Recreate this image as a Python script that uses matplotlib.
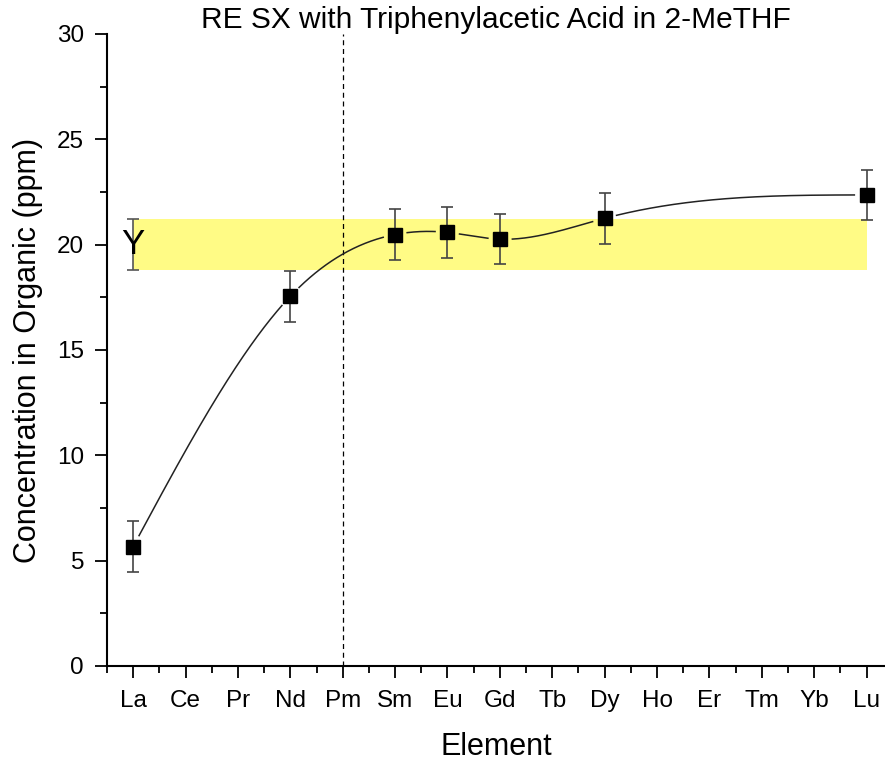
import numpy as np
import matplotlib
matplotlib.use('Agg')
import matplotlib.pyplot as plt
from matplotlib.ticker import MultipleLocator

plt.rcParams['font.family'] = ['Liberation Sans', 'DejaVu Sans']

elements = ['La', 'Ce', 'Pr', 'Nd', 'Pm', 'Sm', 'Eu', 'Gd', 'Tb', 'Dy',
            'Ho', 'Er', 'Tm', 'Yb', 'Lu']
measured = ['La', 'Nd', 'Sm', 'Eu', 'Gd', 'Dy', 'Lu']
conc = [5.67, 17.55, 20.48, 20.58, 20.26, 21.25, 22.36]
conc_err = [1.19, 1.2, 1.19, 1.2, 1.18, 1.2, 1.19]
y_conc = 19.99
y_err = 1.21


def natural_spline(x, y, xs):
    # plain natural cubic spline, no scipy needed
    x = np.asarray(x, float)
    y = np.asarray(y, float)
    n = len(x)
    h = np.diff(x)
    A = np.zeros((n, n))
    b = np.zeros(n)
    A[0, 0] = A[-1, -1] = 1
    for i in range(1, n - 1):
        A[i, i - 1] = h[i - 1]
        A[i, i] = 2 * (h[i - 1] + h[i])
        A[i, i + 1] = h[i]
        b[i] = 3 * ((y[i + 1] - y[i]) / h[i] - (y[i] - y[i - 1]) / h[i - 1])
    c = np.linalg.solve(A, b)
    out = np.empty_like(xs)
    for k, xv in enumerate(xs):
        i = min(max(np.searchsorted(x, xv) - 1, 0), n - 2)
        d = (c[i + 1] - c[i]) / (3 * h[i])
        bb = (y[i + 1] - y[i]) / h[i] - h[i] * (2 * c[i] + c[i + 1]) / 3
        t = xv - x[i]
        out[k] = y[i] + bb * t + c[i] * t ** 2 + d * t ** 3
    return out


pos = np.arange(len(elements))
xm = np.array([elements.index(e) for e in measured], float)
ym = np.array(conc)

fig = plt.figure(figsize=(8.85, 7.62), dpi=100)
ax = fig.add_axes([0.1209, 0.126, 0.879, 0.8294])
ax.set_xlim(-0.5, 14.35)
ax.set_ylim(0, 30)

# band for the Y reference value
ax.fill_between([0, 14], y_conc - y_err, y_conc + y_err,
                color='#FFFB85', lw=0, zorder=1)
ax.errorbar(0, y_conc, yerr=y_err, fmt='none', ecolor='#555555',
            elinewidth=1.2, capsize=4, capthick=1.2, zorder=2)
ax.text(0, y_conc, 'Y', ha='center', va='center', fontsize=25, zorder=3)

ax.axvline(4, color='k', ls=(0, (4, 3)), lw=0.9, zorder=2)

# spline through the points, broken near each marker
xs = np.linspace(xm[0], xm[-1], 1500)
ys = natural_spline(xm, ym, xs)
px, py = 52.4, 21.03
near = np.zeros_like(xs, bool)
for a, b in zip(xm, ym):
    near |= np.hypot((xs - a) * px, (ys - b) * py) < 12
ys_m = np.where(near, np.nan, ys)
ax.plot(xs, ys_m, color='#222222', lw=1.1, zorder=3)

ax.errorbar(xm, ym, yerr=conc_err, fmt='none', ecolor='#444444',
            elinewidth=1.2, capsize=4, capthick=1.2, zorder=4)
ax.plot(xm, ym, 's', color='k', ms=9.5, zorder=5)

ax.set_xticks(pos)
ax.set_xticklabels(elements)
ax.xaxis.set_minor_locator(MultipleLocator(0.5))
ax.yaxis.set_major_locator(MultipleLocator(5))
ax.yaxis.set_minor_locator(MultipleLocator(2.5))
ax.tick_params(which='major', length=8.5, width=1.3, labelsize=17.5)
ax.tick_params(axis='x', which='major', pad=9)
ax.tick_params(axis='y', which='major', pad=8)
ax.tick_params(which='minor', length=5, width=1.3)

for s in ('top', 'right'):
    ax.spines[s].set_visible(False)
for s in ('left', 'bottom'):
    ax.spines[s].set_linewidth(1.5)

ax.set_xlabel('Element', fontsize=22, labelpad=14)
ax.set_ylabel('Concentration in Organic (ppm)', fontsize=22, labelpad=10)
ax.set_title('RE SX with Triphenylacetic Acid in 2-MeTHF', fontsize=21.5, pad=3)

fig.savefig('out.png', dpi=100)
